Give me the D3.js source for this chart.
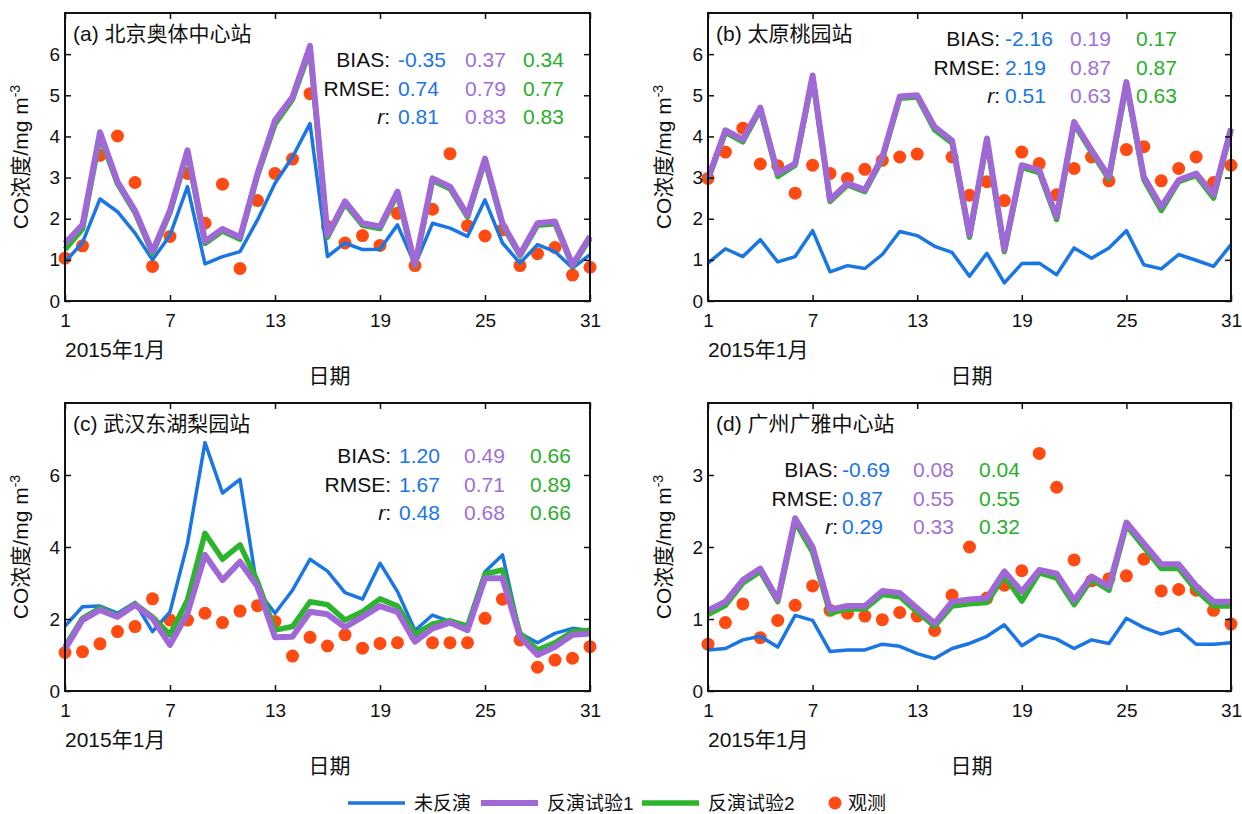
<!DOCTYPE html>
<html>
<head>
<meta charset="utf-8">
<script src="https://cdn.jsdelivr.net/npm/d3@7"></script>
<style>
  body { margin: 0; background: #fff; }
  svg text { font-family: "Liberation Sans", Arial, "Noto Sans CJK SC", sans-serif; fill: #111; }
</style>
</head>
<body>
<div id="chart"></div>
<script>
// days of January 2015
var days = d3.range(1, 32);
var xTicks = [1, 7, 13, 19, 25, 31];

var stationNames = ["(a) 北京奥体中心站", "(b) 太原桃园站", "(c) 武汉东湖梨园站", "(d) 广州广雅中心站"];
var seriesNames = ["未反演", "反演试验1", "反演试验2", "观测"];
var statNames = ["BIAS", "RMSE", "r"];

// (a) Beijing
var noInvA = [0.95,1.42,2.48,2.17,1.65,1.0,1.6,2.78,0.9,1.08,1.2,1.97,2.86,3.5,4.31,1.08,1.41,1.25,1.26,1.85,0.88,1.89,1.77,1.57,2.46,1.41,0.92,1.37,1.2,0.8,1.13];
var exp1A = [1.4,1.85,4.1,2.9,2.2,1.2,2.2,3.66,1.45,1.75,1.55,3.1,4.39,4.96,6.2,1.6,2.42,1.89,1.81,2.66,0.88,2.98,2.78,2.09,3.46,1.89,1.13,1.89,1.93,0.88,1.57];
var exp2A = [1.25,1.75,4.0,2.85,2.15,1.15,2.15,3.6,1.4,1.7,1.5,3.05,4.3,4.9,6.1,1.55,2.37,1.84,1.76,2.6,0.85,2.93,2.73,2.04,3.41,1.84,1.1,1.84,1.88,0.85,1.52];
var obsA = [1.04,1.34,3.54,4.01,2.88,0.84,1.57,3.1,1.89,2.84,0.79,2.44,3.1,3.45,5.04,1.81,1.41,1.59,1.35,2.13,0.86,2.23,3.58,1.83,1.58,1.73,0.86,1.15,1.3,0.63,0.82];

// (b) Taiyuan
var noInvB = [0.92,1.27,1.08,1.49,0.95,1.08,1.71,0.71,0.86,0.79,1.13,1.69,1.59,1.33,1.18,0.6,1.16,0.44,0.91,0.92,0.64,1.29,1.04,1.29,1.71,0.88,0.78,1.13,0.99,0.84,1.37];
var exp1B = [2.98,4.15,3.92,4.7,3.1,3.34,5.48,2.46,2.86,2.7,3.5,4.97,5.0,4.23,3.9,1.6,3.95,1.25,3.3,3.18,2.05,4.35,3.67,3.02,5.32,3.02,2.29,2.94,3.1,2.58,4.19];
var exp2B = [2.95,4.1,3.87,4.65,3.03,3.3,5.42,2.42,2.82,2.66,3.45,4.93,4.96,4.16,3.84,1.55,3.88,1.2,3.25,3.12,1.98,4.3,3.62,2.96,5.26,2.95,2.2,2.9,3.05,2.5,4.14];
var obsB = [2.98,3.62,4.2,3.33,3.29,2.62,3.3,3.1,2.98,3.2,3.42,3.5,3.57,null,3.5,2.57,2.9,2.44,3.62,3.34,2.58,3.22,3.5,2.92,3.68,3.75,2.92,3.22,3.5,2.88,3.3];

// (c) Wuhan
var noInvC = [1.8,2.34,2.36,2.16,2.46,1.65,2.2,4.1,6.9,5.5,5.88,2.8,2.16,2.8,3.66,3.33,2.73,2.55,3.55,2.76,1.68,2.11,1.93,1.83,3.31,3.78,1.6,1.34,1.6,1.74,1.68];
var exp1C = [1.16,1.97,2.25,2.06,2.39,2.02,1.28,2.16,3.78,3.08,3.59,2.9,1.49,1.51,2.2,2.13,1.77,2.06,2.36,2.2,1.37,1.74,1.9,1.69,3.13,3.13,1.51,1.0,1.23,1.56,1.6];
var exp2C = [1.23,2.02,2.3,2.08,2.42,2.06,1.56,2.53,4.38,3.66,4.06,3.04,1.69,1.79,2.48,2.4,1.97,2.2,2.56,2.36,1.58,1.86,1.95,1.8,3.25,3.36,1.6,1.14,1.34,1.65,1.69];
var obsC = [1.07,1.09,1.31,1.65,1.79,2.56,1.97,1.97,2.16,1.9,2.22,2.37,1.93,0.97,1.49,1.25,1.56,1.19,1.32,1.34,1.55,1.34,1.34,1.34,2.02,2.55,1.42,0.66,0.86,0.91,1.23];

// (d) Guangzhou
var noInvD = [0.57,0.59,0.71,0.76,0.61,1.05,0.98,0.55,0.57,0.57,0.65,0.62,0.52,0.45,0.59,0.66,0.76,0.92,0.63,0.78,0.72,0.59,0.71,0.66,1.01,0.88,0.79,0.86,0.65,0.65,0.67];
var exp1D = [1.12,1.24,1.54,1.7,1.27,2.4,2.0,1.13,1.18,1.18,1.39,1.36,1.15,0.94,1.24,1.27,1.29,1.66,1.38,1.68,1.63,1.26,1.59,1.45,2.34,2.05,1.76,1.76,1.46,1.24,1.24];
var exp2D = [1.06,1.19,1.5,1.66,1.24,2.35,1.93,1.08,1.14,1.14,1.34,1.31,1.1,0.9,1.18,1.21,1.23,1.6,1.25,1.64,1.57,1.2,1.55,1.4,2.3,2.0,1.7,1.7,1.4,1.18,1.18];
var obsD = [0.65,0.95,1.21,0.74,0.98,1.19,1.46,1.12,1.08,1.04,0.99,1.09,1.04,0.84,1.33,2.0,1.29,1.47,1.67,3.3,2.83,1.82,1.53,1.56,1.6,1.83,1.39,1.41,1.4,1.12,0.93];

// statistics: rows BIAS / RMSE / r, columns 未反演 / 试验1 / 试验2
var statsA = [["-0.35","0.37","0.34"], ["0.74","0.79","0.77"], ["0.81","0.83","0.83"]];
var statsB = [["-2.16","0.19","0.17"], ["2.19","0.87","0.87"], ["0.51","0.63","0.63"]];
var statsC = [["1.20","0.49","0.66"], ["1.67","0.71","0.89"], ["0.48","0.68","0.66"]];
var statsD = [["-0.69","0.08","0.04"], ["0.87","0.55","0.55"], ["0.29","0.33","0.32"]];

var yMaxes = [7, 7, 8, 4];
var yTickSets = [[0,1,2,3,4,5,6], [0,1,2,3,4,5,6], [0,2,4,6], [0,1,2,3]];

var colors = ["#1a76e4", "#a068d6", "#2cb52c", "#ff4a12"];
var textColors = ["#1a76e4", "#9f6fd6", "#2aae2a"];
var lineWidths = [3.5, 6, 5.5];

// layout of the four plot boxes
var boxes = [
  {x0: 65, x1: 590, y0: 13, y1: 301},
  {x0: 708, x1: 1231, y0: 13, y1: 301},
  {x0: 65, x1: 590, y0: 403, y1: 691},
  {x0: 708, x1: 1231, y0: 403, y1: 691}
];
// where the stat block sits inside each box: label end, column starts, first baseline
var statPos = [
  {lab: 325, cols: [333, 400, 458], top: 54},
  {lab: 292, cols: [297, 362, 428], top: 33},
  {lab: 326, cols: [334, 399, 465], top: 60},
  {lab: 130, cols: [134, 205, 271], top: 74}
];

var panels = [
  {lines: [noInvA, exp1A, exp2A], obs: obsA, stats: statsA},
  {lines: [noInvB, exp1B, exp2B], obs: obsB, stats: statsB},
  {lines: [noInvC, exp1C, exp2C], obs: obsC, stats: statsC},
  {lines: [noInvD, exp1D, exp2D], obs: obsD, stats: statsD}
];

var svg = d3.select("#chart").append("svg")
  .attr("width", 1242)
  .attr("height", 814);

function drawPanel(i) {
  var b = boxes[i];
  var p = panels[i];
  var x = d3.scaleLinear().domain([1, 31]).range([b.x0, b.x1]);
  var y = d3.scaleLinear().domain([0, yMaxes[i]]).range([b.y1, b.y0]);
  var g = svg.append("g");

  // observations first, lines drawn over them
  g.selectAll("circle.obs")
    .data(days.filter(function(d) { return p.obs[d - 1] != null; }))
    .enter().append("circle")
    .attr("class", "obs")
    .attr("cx", function(d) { return x(d); })
    .attr("cy", function(d) { return y(p.obs[d - 1]); })
    .attr("r", 6.5)
    .style("fill", colors[3]);

  var order = [0, 2, 1]; // blue, green, purple on top
  order.forEach(function(k) {
    var line = d3.line()
      .x(function(d) { return x(d); })
      .y(function(d) { return y(p.lines[k][d - 1]); });
    g.append("path")
      .attr("d", line(days))
      .attr("fill", "none")
      .attr("stroke", colors[k])
      .attr("stroke-width", lineWidths[k])
      .attr("stroke-linejoin", "round");
  });

  // axes, ticks pointing inward on all four sides
  var fmt = function(d) { return d; };
  g.append("g")
    .attr("transform", "translate(0," + b.y1 + ")")
    .call(d3.axisBottom(x).tickValues(xTicks).tickSizeInner(-6).tickSizeOuter(0).tickPadding(13).tickFormat(fmt));
  g.append("g")
    .attr("transform", "translate(0," + b.y0 + ")")
    .call(d3.axisTop(x).tickValues(xTicks).tickSizeInner(-6).tickSizeOuter(0).tickFormat(""));
  g.append("g")
    .attr("transform", "translate(" + b.x0 + ",0)")
    .call(d3.axisLeft(y).tickValues(yTickSets[i]).tickSizeInner(-6).tickSizeOuter(0).tickPadding(5).tickFormat(fmt));
  g.append("g")
    .attr("transform", "translate(" + b.x1 + ",0)")
    .call(d3.axisRight(y).tickValues(yTickSets[i]).tickSizeInner(-6).tickSizeOuter(0).tickFormat(""));

  g.selectAll(".tick line").attr("stroke", "#111").attr("stroke-width", 1.5);
  g.selectAll(".domain").remove();
  g.selectAll(".tick text").style("font-size", "19px").attr("fill", "#111");
  g.append("rect")
    .attr("x", b.x0).attr("y", b.y0)
    .attr("width", b.x1 - b.x0).attr("height", b.y1 - b.y0)
    .attr("fill", "none").attr("stroke", "#111").attr("stroke-width", 2);

  // station title
  g.append("text")
    .attr("x", b.x0 + 8).attr("y", b.y0 + 28)
    .style("font-size", "21px")
    .text(stationNames[i]);

  // stats block
  var sp = statPos[i];
  for (var r = 0; r < 3; r++) {
    var yy = b.y0 + sp.top + r * 28.5;
    var lab = g.append("text")
      .attr("x", b.x0 + sp.lab).attr("y", yy)
      .attr("text-anchor", "end")
      .style("font-size", "21px");
    if (statNames[r] == "r") {
      lab.append("tspan").style("font-style", "italic").text("r");
      lab.append("tspan").text(":");
    } else {
      lab.text(statNames[r] + ":");
    }
    for (var c = 0; c < 3; c++) {
      g.append("text")
        .attr("x", b.x0 + sp.cols[c]).attr("y", yy)
        .style("font-size", "21px")
        .style("fill", textColors[c])
        .text(p.stats[r][c]);
    }
  }

  // axis labels
  var yl = g.append("text")
    .attr("transform", "translate(" + (b.x0 - 37) + "," + ((b.y0 + b.y1) / 2) + ") rotate(-90)")
    .attr("text-anchor", "middle")
    .style("font-size", "21px");
  yl.append("tspan").text("CO浓度/mg m");
  yl.append("tspan").attr("dy", -8).style("font-size", "14px").text("-3");

  g.append("text")
    .attr("x", b.x0).attr("y", b.y1 + 56)
    .style("font-size", "21px")
    .text("2015年1月");
  g.append("text")
    .attr("x", (b.x0 + b.x1) / 2 + 2).attr("y", b.y1 + 82)
    .attr("text-anchor", "middle")
    .style("font-size", "21px")
    .text("日期");
}

for (var i = 0; i < 4; i++) {
  drawPanel(i);
}

// legend
var legendX = [348, 481, 642, 829];
var legend = svg.append("g");
for (let k = 0; k < 4; k++) {
  if (k < 3) {
    legend.append("line")
      .attr("x1", legendX[k]).attr("x2", legendX[k] + 57)
      .attr("y1", 803).attr("y2", 803)
      .attr("stroke", colors[k])
      .attr("stroke-width", lineWidths[k]);
    legend.append("text")
      .attr("x", legendX[k] + 66).attr("y", 810)
      .style("font-size", "19px")
      .text(seriesNames[k]);
  } else {
    legend.append("circle")
      .attr("cx", legendX[k] + 6).attr("cy", 803)
      .attr("r", 6.5)
      .style("fill", colors[3]);
    legend.append("text")
      .attr("x", legendX[k] + 19).attr("y", 810)
      .style("font-size", "19px")
      .text(seriesNames[k]);
  }
}
</script>
</body>
</html>
